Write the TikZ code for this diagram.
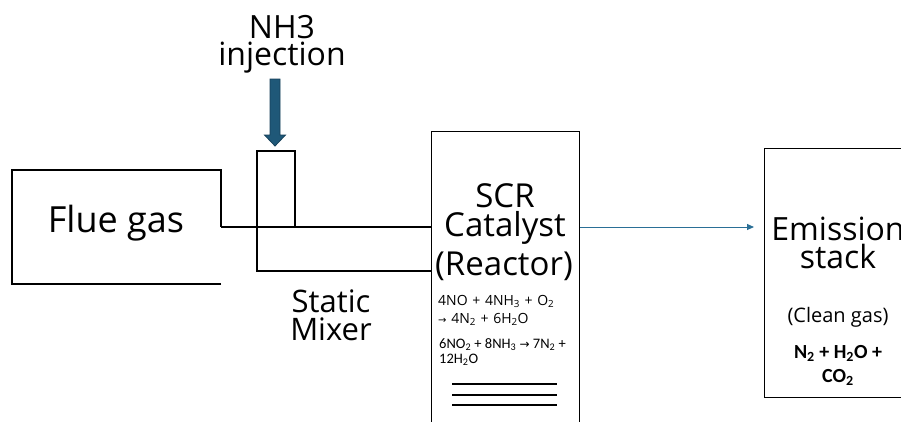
\documentclass[tikz,border=0pt]{standalone}
\usepackage{fontspec}
\setmainfont{Open Sans}
\newfontfamily\calfont{Carlito}
\newfontfamily\symfont{DejaVu Sans}
\usetikzlibrary{arrows.meta}
\definecolor{arrowfill}{HTML}{1F5878}
\definecolor{arrowline}{HTML}{17415A}
\definecolor{flowblue}{HTML}{2A6F96}
\tikzset{
  pipe/.style={line width=1.2pt, black},
  unitbox/.style={draw, line width=1.2pt, inner sep=0pt},
  bigtxt/.style={inner sep=0pt, font=\fontsize{32}{27}\selectfont, align=center},
  eqtxt/.style={inner sep=0pt, anchor=base west, font=\fontsize{14}{18}\selectfont, align=left},
}
\begin{document}
\begin{tikzpicture}[x=1pt,y=-1pt]
\useasboundingbox (0,0) rectangle (901,421);
\clip (0,0) rectangle (901,421);
\fill[white] (0,0) rectangle (901,421);

% Flue gas duct
\coordinate (fgtr) at (221,170);
\coordinate (fgtl) at (12,170);
\coordinate (fgbl) at (12,284);
\coordinate (fgbr) at (221,284);
\coordinate (fgin) at (221,227);
\draw[pipe] (fgbr) -- (fgbl) -- (fgtl) -- (fgtr) -- (fgin);
\node[inner sep=0pt, anchor=base, font=\fontsize{36}{36}\selectfont] (flue) at (116,232) {Flue gas};

% Reactor
\node[unitbox, anchor=north west, minimum width=148pt, minimum height=310pt] (reactor) at (431,131) {};
% Static mixer
\coordinate (mxtl) at (257,151);
\coordinate (mxtr) at (295,151);
\coordinate (mxr) at (295,227);
\coordinate (mxbl) at (257,271);
\coordinate (rin1) at (reactor.west |- fgin);
\coordinate (rin2) at (reactor.west |- mxbl);
\draw[pipe] (fgin) -- (rin1);
\draw[pipe] (mxr) -- (mxtr) -- (mxtl) -- (mxbl) -- (rin2);
\node[inner sep=0pt, anchor=base, font=\fontsize{31}{28}\selectfont, align=center] (mixer) at (331,340) {Static\\Mixer};

% NH3 injection
\node[bigtxt, anchor=base] (nh3) at (282,65) {NH3\\injection};
\fill[arrowfill, draw=arrowline, line width=0.8pt]
  (270,79) -- (280,79) -- (280,135) -- (285.5,135) -- (275,146) -- (264.5,135) -- (270,135) -- cycle;

% Reactor text
\node[bigtxt, anchor=base, font=\fontsize{33}{29}\selectfont] (scr) at (505,236) {SCR\\Catalyst};
\node[bigtxt, anchor=base, font=\fontsize{33}{29}\selectfont] (react) at (504,275) {(Reactor)};
\node[eqtxt] (eq1a) at (438,305) {4NO\,\,+\,\,4NH\textsubscript{3}\,\,+\,\,O\textsubscript{2}};
\node[eqtxt] (eq1b) at (438,323) {{\symfont\fontsize{10}{12}\selectfont →}\,\,4N\textsubscript{2}\,\,+\,\,6H\textsubscript{2}O};
\node[eqtxt, font=\calfont\fontsize{14.5}{15}\selectfont] (eq2a) at (439,348) {6NO\textsubscript{2} + 8NH\textsubscript{3} {\symfont\fontsize{12}{12}\selectfont →} 7N\textsubscript{2} +};
\node[eqtxt, font=\calfont\fontsize{14.5}{15}\selectfont] (eq2b) at (439,363) {12H\textsubscript{2}O};
\coordinate (l1a) at (452,384); \coordinate (l1b) at (557,384);
\coordinate (l2a) at (452,395); \coordinate (l2b) at (557,395);
\coordinate (l3a) at (452,405); \coordinate (l3b) at (557,405);
\draw[pipe] (l1a) -- (l1b);
\draw[pipe] (l2a) -- (l2b);
\draw[pipe] (l3a) -- (l3b);

% Emission stack
\node[unitbox, anchor=north west, minimum width=200pt, minimum height=249pt] (stack) at (764,148) {};
\coordinate (rout) at (reactor.east |- fgin);
\draw[flowblue, line width=1pt, -{Triangle[length=7pt,width=6pt]}] (rout) -- ([xshift=-10pt]rout -| stack.west);
\node[bigtxt, anchor=base, font=\fontsize{32}{28}\selectfont] (emis) at (838,268) {Emission\\stack};
\node[inner sep=0pt, anchor=base, font=\fontsize{20}{20}\selectfont] (clean) at (838,322) {(Clean gas)};
\node[inner sep=0pt, anchor=base, align=center, font=\calfont\bfseries\fontsize{20}{24}\selectfont] (prod) at (838,382) {N\textsubscript{2} + H\textsubscript{2}O +\\CO\textsubscript{2}};
\end{tikzpicture}
\end{document}
